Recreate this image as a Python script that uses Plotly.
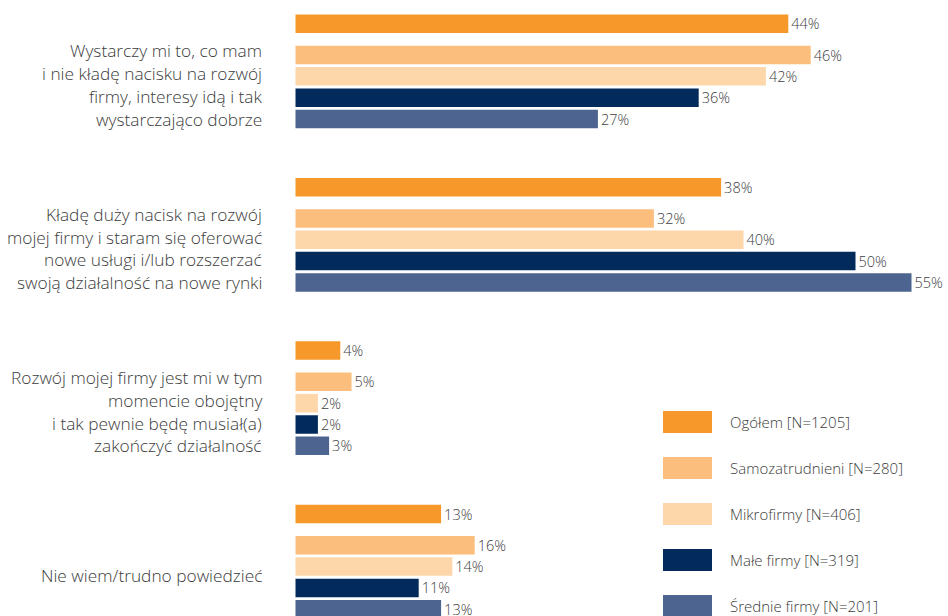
import plotly.graph_objects as go

# ---- data -------------------------------------------------------------
categories = [
    "Wystarczy mi to, co mam<br>i nie kładę nacisku na rozwój<br>firmy, interesy idą i tak<br>wystarczająco dobrze",
    "Kładę duży nacisk na rozwój<br>mojej firmy i staram się oferować<br>nowe usługi i/lub rozszerzać<br>swoją działalność na nowe rynki",
    "Rozwój mojej firmy jest mi w tym<br>momencie obojętny<br>i tak pewnie będę musiał(a)<br>zakończyć działalność",
    "Nie wiem/trudno powiedzieć",
]
series_names = [
    "Ogółem [N=1205]",
    "Samozatrudnieni [N=280]",
    "Mikrofirmy [N=406]",
    "Małe firmy [N=319]",
    "Średnie firmy [N=201]",
]
ogolem = [44, 38, 4, 13]
samozatrudnieni = [46, 32, 5, 16]
mikrofirmy = [42, 40, 2, 14]
male_firmy = [36, 50, 2, 11]
srednie_firmy = [27, 55, 3, 13]

series_values = [ogolem, samozatrudnieni, mikrofirmy, male_firmy, srednie_firmy]
series_colors = ["#F7982A", "#FBBE7D", "#FDD6AA", "#022B5B", "#4C648F"]

# ---- layout geometry (y axis runs in pixels, top to bottom) -----------
W, H = 948, 616
X0_PX, PX_PER_PCT = 295.5, 11.2
GROUP_START, GROUP_PITCH = 23.8, 163.4
SUB_OFFSET, SUB_STEP = 31.2, 21.35
BAR_H = 18.5
TEXT_COLOR = "#3C3C3C"
FONT = "Open Sans"
WEIGHT = 300


def bar_pos(group, series):
    base = GROUP_START + GROUP_PITCH * group
    if series == 0:
        return base
    return base + SUB_OFFSET + SUB_STEP * (series - 1)


fig = go.Figure()
for s, (name, vals, col) in enumerate(zip(series_names, series_values, series_colors)):
    fig.add_trace(go.Bar(
        name=name,
        orientation="h",
        x=vals,
        y=[bar_pos(g, s) for g in range(len(vals))],
        width=BAR_H,
        marker=dict(color=col, line=dict(width=0)),
        text=[f"{v}%" for v in vals],
        textposition="outside",
        constraintext="none",
        cliponaxis=False,
        textfont=dict(family=FONT, size=14.5, color="#404040", weight=WEIGHT),
        hoverinfo="skip",
        showlegend=False,
    ))

annotations = []
shapes = []

# category labels, right-aligned, centred on the four sub-series bars
LINE_H = 22.7
for g, label in enumerate(categories):
    lines = label.split("<br>")
    centre = (bar_pos(g, 1) + bar_pos(g, 4)) / 2 - 2
    first = centre - LINE_H * (len(lines) - 1) / 2
    for i, line in enumerate(lines):
        annotations.append(dict(
            text=line, xref="paper", yref="y",
            x=264 / W, y=first + LINE_H * i,
            xanchor="right", yanchor="middle", showarrow=False,
            font=dict(family=FONT, size=17.3, color=TEXT_COLOR, weight=WEIGHT),
        ))

# legend: wide swatches with labels
LEG_Y0, LEG_STEP = 422, 46
for s, (name, col) in enumerate(zip(series_names, series_colors)):
    yc = LEG_Y0 + LEG_STEP * s
    shapes.append(dict(
        type="rect", xref="paper", yref="y",
        x0=663 / W, x1=712 / W, y0=yc - 11, y1=yc + 11,
        fillcolor=col, line=dict(width=0), layer="above",
    ))
    annotations.append(dict(
        text=name, xref="paper", yref="y",
        x=728 / W, y=yc, xanchor="left", yanchor="middle", showarrow=False,
        font=dict(family=FONT, size=15, color=TEXT_COLOR, weight=WEIGHT),
    ))

fig.update_layout(
    width=W, height=H,
    margin=dict(l=0, r=0, t=0, b=0),
    paper_bgcolor="white", plot_bgcolor="white",
    barmode="overlay",
    xaxis=dict(range=[-X0_PX / PX_PER_PCT, (W - X0_PX) / PX_PER_PCT],
               visible=False, fixedrange=True),
    yaxis=dict(range=[H, 0], visible=False, fixedrange=True),
    annotations=annotations,
    shapes=shapes,
    hovermode=False,
)

fig.write_html("out.html", config={"displayModeBar": False})
